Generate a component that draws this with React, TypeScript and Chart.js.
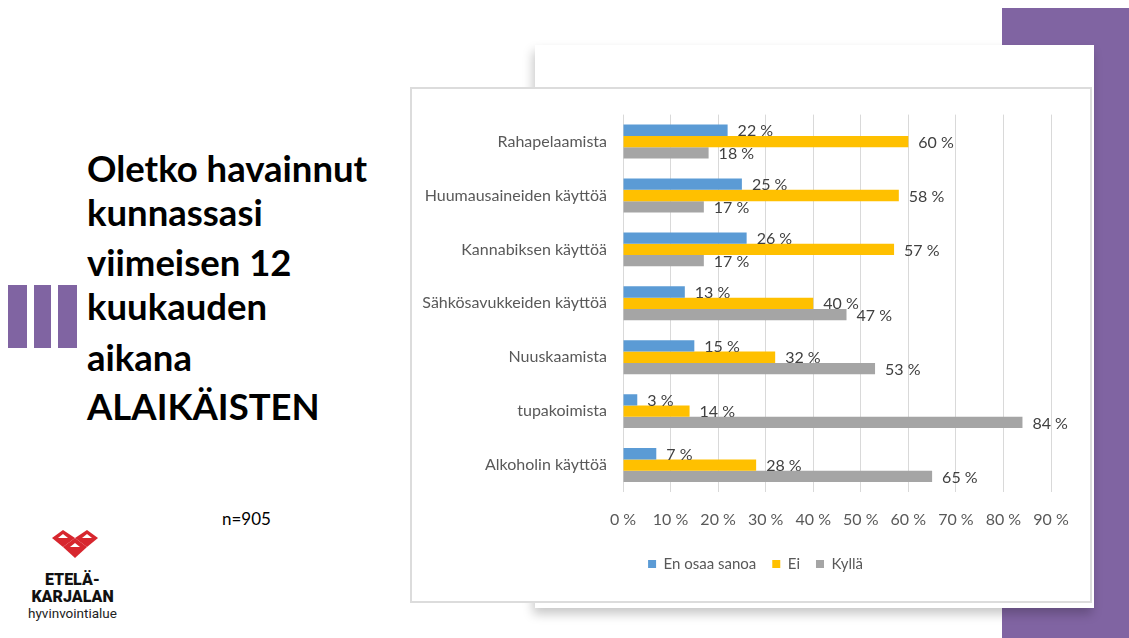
import React, { useEffect, useRef } from "react";
import { Chart, registerables } from "chart.js";

Chart.register(...registerables);

const categories = [
  "Rahapelaamista",
  "Huumausaineiden käyttöä",
  "Kannabiksen käyttöä",
  "Sähkösavukkeiden käyttöä",
  "Nuuskaamista",
  "tupakoimista",
  "Alkoholin käyttöä",
];
const seriesNames = ["En osaa sanoa", "Ei", "Kyllä"];
const enOsaaSanoa = [22, 25, 26, 13, 15, 3, 7];
const ei = [60, 58, 57, 40, 32, 14, 28];
const kylla = [18, 17, 17, 47, 53, 84, 65];
const seriesColors = ["#5B9BD5", "#FFC000", "#A5A5A5"];
const xTickMax = 90;
const xTickStep = 10;

const titleLines = [
  "Oletko havainnut",
  "kunnassasi",
  "viimeisen 12",
  "kuukauden",
  "aikana",
  "ALAIKÄISTEN",
];
const titleBaselines = [182, 226, 276, 320, 371, 420];

const CHART_FONT = "Lato, 'Open Sans', sans-serif";
const TITLE_SIZE = 36.5;

const dataLabelPlugin = {
  id: "dataLabels",
  afterDatasetsDraw(chart: any) {
    const ctx = chart.ctx;
    ctx.save();
    ctx.font = `16px ${CHART_FONT}`;
    ctx.fillStyle = "#404040";
    ctx.textAlign = "left";
    ctx.textBaseline = "middle";
    chart.data.datasets.forEach((ds: any, i: number) => {
      const meta = chart.getDatasetMeta(i);
      meta.data.forEach((bar: any, j: number) => {
        ctx.fillText(`${ds.data[j]} %`, bar.x + 10, bar.y + 1);
      });
    });
    ctx.restore();
  },
};

// Excel centres the legend under a slightly narrower region than the canvas
const legendShiftPlugin = {
  id: "legendShift",
  afterLayout(chart: any) {
    if (chart.legend) chart.legend.left += 48;
  },
};

function BarChart() {
  const ref = useRef<HTMLCanvasElement | null>(null);
  useEffect(() => {
    if (!ref.current) return;
    const chart = new Chart(ref.current, {
      type: "bar",
      data: {
        labels: categories,
        datasets: [enOsaaSanoa, ei, kylla].map((d, i) => ({
          label: seriesNames[i],
          data: d,
          backgroundColor: seriesColors[i],
          borderWidth: 0,
          barPercentage: 1,
          categoryPercentage: 0.63,
        })),
      },
      options: {
        indexAxis: "y",
        animation: false,
        responsive: false,
        maintainAspectRatio: false,
        layout: { padding: { top: 25, right: 39, bottom: 19.5, left: 0 } },
        plugins: {
          legend: {
            position: "bottom",
            labels: {
              boxWidth: 8,
              boxHeight: 8,
              padding: 16,
              color: "#595959",
              font: { family: CHART_FONT, size: 15 },
            },
          },
          tooltip: { enabled: false },
        },
        scales: {
          x: {
            min: 0,
            max: xTickMax,
            ticks: {
              stepSize: xTickStep,
              padding: 18,
              color: "#595959",
              font: { family: CHART_FONT, size: 16 },
              callback: (v: any) => `${v} %`,
            },
            grid: { color: "#d9d9d9", lineWidth: 1, drawTicks: false },
            border: { display: false },
            afterFit: (s: any) => {
              s.height = 48.5;
            },
          },
          y: {
            ticks: {
              padding: 16,
              color: "#595959",
              font: { family: CHART_FONT, size: 16 },
            },
            grid: { display: false, drawTicks: false },
            border: { display: false },
            afterFit: (s: any) => {
              s.width = 211;
            },
          },
        },
      },
      plugins: [dataLabelPlugin, legendShiftPlugin],
    });
    return () => chart.destroy();
  }, []);
  return (
    <canvas
      ref={ref}
      width={678}
      height={512}
      style={{ position: "absolute", left: 412, top: 89, width: 678, height: 512 }}
    />
  );
}

function Logo() {
  const red = "#D7262E";
  return (
    <div style={{ position: "absolute", left: 20, top: 526, width: 105, height: 100 }}>
      <svg width={105} height={40} style={{ position: "absolute", left: 0, top: 0 }}>
        <g transform="translate(-20,-526)">
          <polygon points="52,538 63,530 75,538 63,547" fill={red} />
          <polygon points="75,538 87,530 98,538 87,547" fill={red} />
          <polygon points="63,547 75,538 87,547 75,558" fill={red} />
          <polygon points="58,538 63,534 68,538" fill="#fff" />
          <polygon points="82,538 87,534 92,538" fill="#fff" />
          <polygon points="70,547 75,543 80,547" fill="#fff" />
        </g>
      </svg>
      <div
        style={{
          position: "absolute",
          left: 0,
          top: 45,
          width: 105,
          textAlign: "center",
          fontFamily: "Roboto, sans-serif",
          fontWeight: 900,
          fontSize: 16,
          lineHeight: "17px",
          color: "#111",
        }}
      >
        ETELÄ-
        <br />
        KARJALAN
      </div>
      <div
        style={{
          position: "absolute",
          left: 0,
          top: 80,
          width: 105,
          textAlign: "center",
          fontFamily: "Roboto, sans-serif",
          fontSize: 13.5,
          lineHeight: "14px",
          color: "#222",
        }}
      >
        hyvinvointialue
      </div>
    </div>
  );
}

export default function App() {
  return (
    <div
      style={{
        position: "absolute",
        left: 0,
        top: 0,
        width: 1129,
        height: 638,
        overflow: "hidden",
        background: "#fff",
      }}
    >
      <div style={{ position: "absolute", left: 1002, top: 8, width: 127, height: 630, background: "#8064A2" }} />
      <div
        style={{
          position: "absolute",
          left: 535,
          top: 45,
          width: 559,
          height: 563,
          background: "#fff",
          boxShadow: "-2px 6px 10px rgba(0,0,0,0.22)",
        }}
      />
      {[8, 34, 58].map((x, i) => (
        <div
          key={i}
          style={{ position: "absolute", left: x, top: 285, width: i === 1 ? 17 : 19, height: 63, background: "#8064A2" }}
        />
      ))}
      {titleLines.map((t, i) => (
        <div
          key={i}
          style={{
            position: "absolute",
            left: 87,
            top: titleBaselines[i] - 0.887 * TITLE_SIZE,
            fontFamily: "Lato, sans-serif",
            fontWeight: 700,
            fontSize: TITLE_SIZE,
            lineHeight: `${TITLE_SIZE}px`,
            color: "#000",
            whiteSpace: "nowrap",
          }}
        >
          {t}
        </div>
      ))}
      <div
        style={{
          position: "absolute",
          left: 222,
          top: 509,
          fontFamily: "Lato, sans-serif",
          fontSize: 17,
          lineHeight: "20px",
          color: "#000",
        }}
      >
        n=905
      </div>
      <Logo />
      <div
        style={{
          position: "absolute",
          left: 410,
          top: 87,
          width: 682,
          height: 516,
          boxSizing: "border-box",
          border: "2px solid #dcdcdc",
          background: "#fff",
        }}
      />
      <BarChart />
    </div>
  );
}
